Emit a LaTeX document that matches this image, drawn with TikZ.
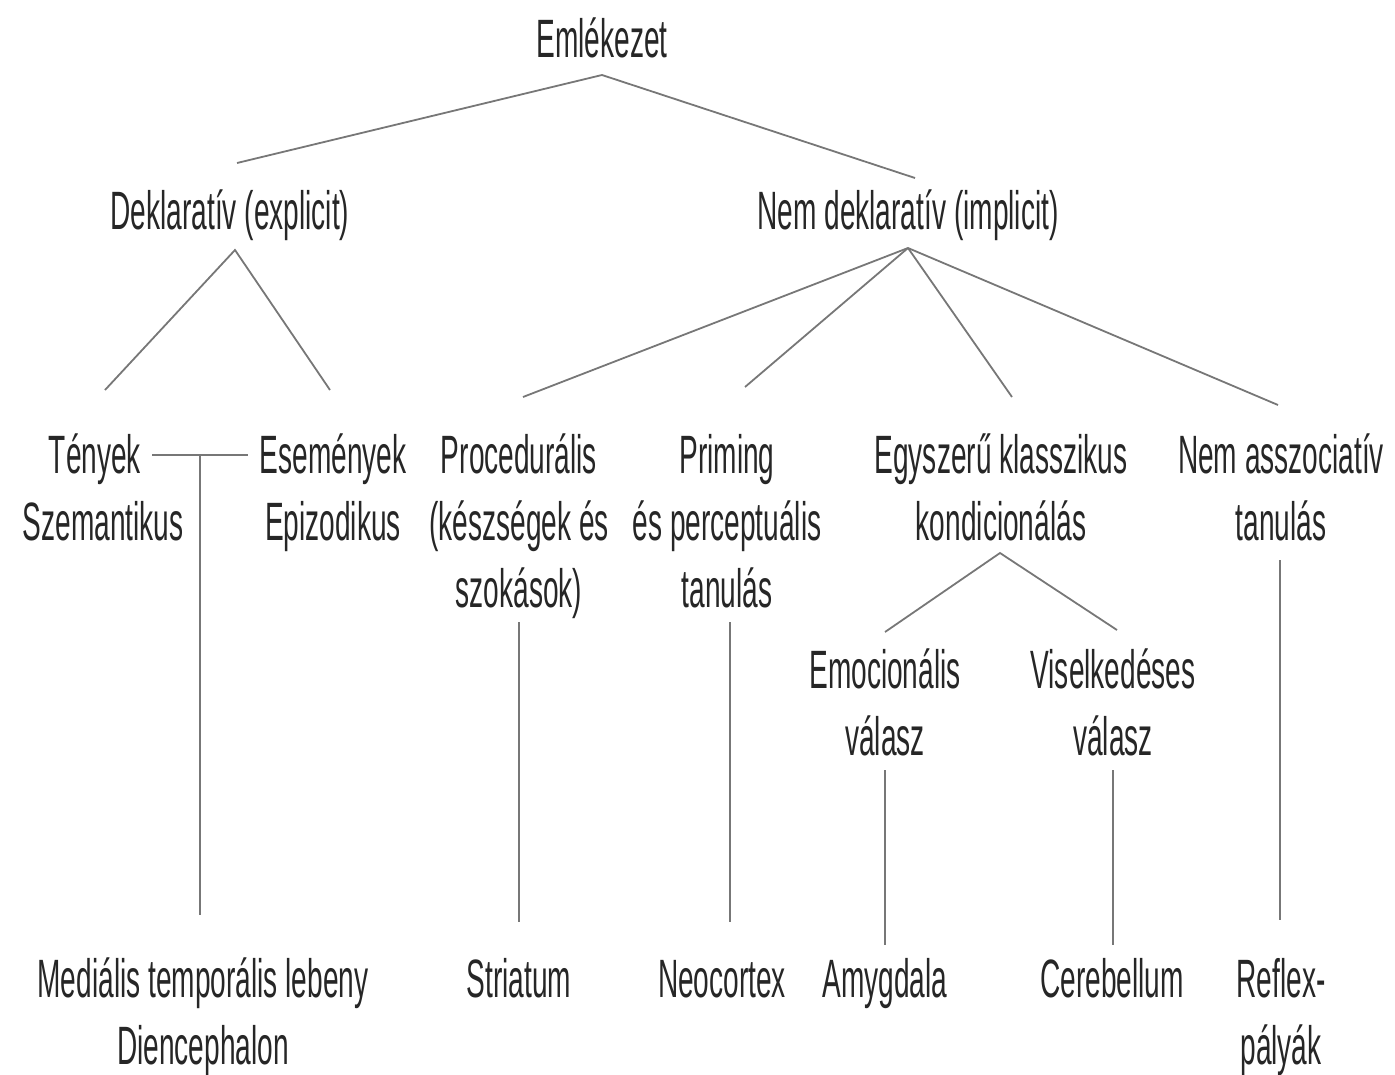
\documentclass[tikz,border=0pt]{standalone}
\usepackage{fontspec}
\setmainfont{Liberation Sans}[FakeStretch=0.52]
\usetikzlibrary{calc}
\definecolor{inkgray}{HTML}{262626}
\definecolor{linegray}{HTML}{777777}
\tikzset{
  term/.style={font=\fontsize{54}{67}\selectfont, text=inkgray, align=center,
    inner sep=0pt, anchor=base},
  branch/.style={draw=linegray, line width=1.8pt}
}
\begin{document}
\begin{tikzpicture}[x=1pt, y=-1pt]
\useasboundingbox (0,0) rectangle (1395,1074);

% Top levels
\node [term] (emlek) at (602,57) {Emlékezet};
\node [term] (dekl) at (230,229) {Deklaratív (explicit)};
\node [term] (nemdekl) at (908,229) {Nem deklaratív (implicit)};

% Declarative branch
\node [term] (tenyek) at (95,473) {Tények};
\node [term] (szem) at (103,540) {Szemantikus};
\node [term] (esem) at (333,473) {Események};
\node [term] (epiz) at (333,540) {Epizodikus};

% Non declarative branch (base = last line)
\node [term] (proc) at (519,607) {Procedurális\\(készségek és\\szokások)};
\node [term] (priming) at (727,607) {Priming\\és perceptuális\\tanulás};
\node [term] (egysz) at (1001,540) {Egyszerű klasszikus\\kondicionálás};
\node [term] (nemassz) at (1281,540) {Nem asszociatív\\tanulás};
\node [term] (emoc) at (885,755) {Emocionális\\válasz};
\node [term] (visel) at (1113,755) {Viselkedéses\\válasz};

% Brain structures
\node [term] (medialis) at (203,1064) {Mediális temporális lebeny\\Diencephalon};
\node [term] (striatum) at (519,997) {Striatum};
\node [term] (neocortex) at (722,997) {Neocortex};
\node [term] (amygdala) at (885,997) {Amygdala};
\node [term] (cerebellum) at (1112,997) {Cerebellum};
\node [term] (reflex) at (1281,1064) {Reflex-\\pályák};

% Tree lines
\draw [branch] ($(dekl.base)+(7,-66)$) -- ($(emlek.base)+(0,18)$) -- ($(nemdekl.base)+(7,-51)$);
\draw [branch] ($(tenyek.base)+(10,-83)$) -- ($(dekl.base)+(5,21)$) -- ($(esem.base)+(-3,-83)$);
\draw [branch] ($(nemdekl.base)+(0,19)$) -- ($(proc.base)+(4,-210)$);
\draw [branch] ($(nemdekl.base)+(0,19)$) -- ($(priming.base)+(18,-220)$);
\draw [branch] ($(nemdekl.base)+(0,19)$) -- ($(egysz.base)+(11,-143)$);
\draw [branch] ($(nemdekl.base)+(0,19)$) -- ($(nemassz.base)+(-3,-135)$);
\draw [branch] ($(emoc.base)+(0,-123)$) -- ($(egysz.base)+(-1,13)$) -- ($(visel.base)+(4,-125)$);

% Facts -- events
\draw [branch] ($(tenyek.base)+(57,-18)$) -- ($(esem.base)+(-85,-18)$);
\coordinate (junction) at ($(tenyek.base)!0.5!(esem.base)+(-14,-18)$);
\draw [branch] (junction) -- ($(medialis.base)+(-3,-149)$);

% Down to brain structures
\draw [branch] ($(proc.base)+(0,15)$) -- ($(striatum.base)+(0,-75)$);
\draw [branch] ($(priming.base)+(3,15)$) -- ($(neocortex.base)+(8,-75)$);
\draw [branch] ($(emoc.base)+(0,15)$) -- ($(amygdala.base)+(0,-52)$);
\draw [branch] ($(visel.base)+(0,15)$) -- ($(cerebellum.base)+(1,-52)$);
\draw [branch] ($(nemassz.base)+(-1,20)$) -- ($(reflex.base)+(-1,-144)$);
\end{tikzpicture}
\end{document}
